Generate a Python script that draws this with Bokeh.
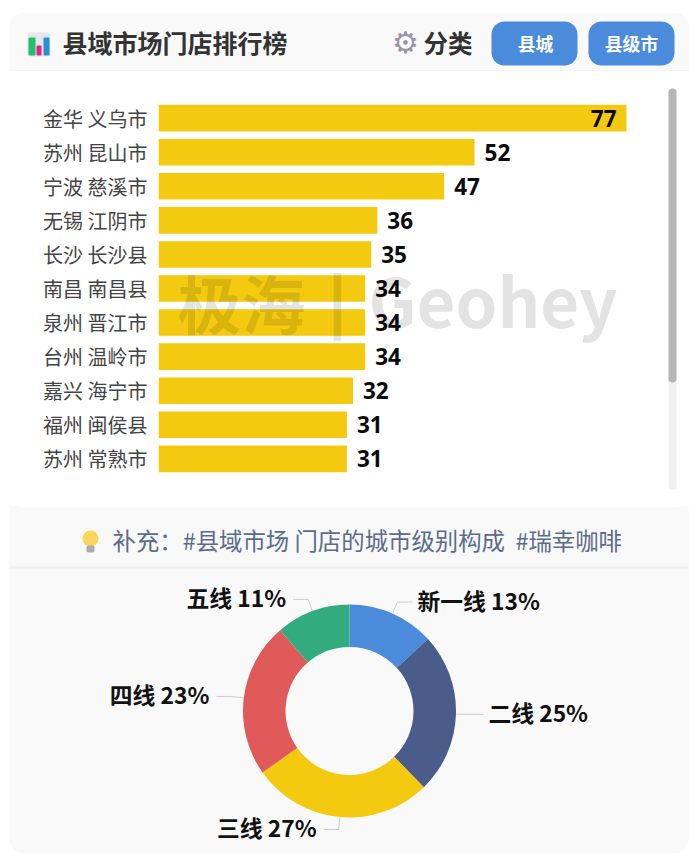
from math import pi, sin, cos
from bokeh.plotting import figure
from bokeh.layouts import column
from bokeh.models import BoxAnnotation, Label, Range1d, FactorRange, ColumnDataSource
from bokeh.core.properties import value
from bokeh.embed import file_html
from bokeh.resources import INLINE

# ---- data ----
cities = ["金华 义乌市", "苏州 昆山市", "宁波 慈溪市", "无锡 江阴市", "长沙 长沙县", "南昌 南昌县",
          "泉州 晋江市", "台州 温岭市", "嘉兴 海宁市", "福州 闽侯县", "苏州 常熟市"]
stores = [77, 52, 47, 36, 35, 34, 34, 34, 32, 31, 31]
tiers = ["新一线", "二线", "三线", "四线", "五线"]
tier_labels = ["13%", "25%", "27%", "23%", "11%"]
tier_shares = [13.2, 24.5, 27.5, 23.5, 11.3]
tier_colors = ["#4a8bdc", "#4a5c8a", "#f4ca10", "#e05a5a", "#32ab7f"]
title = "县域市场门店排行榜"
filter_label = "分类"
buttons = ["县城", "县级市"]
caption = "补充：#县域市场 门店的城市级别构成\u00a0\u00a0#瑞幸咖啡"

CJK = "Noto Sans CJK SC"
WIDTH = 696
HEAD_BOTTOM = 71
BARS_BOTTOM = 505
TOTAL_H = 860
PX_PER_STORE = 6.078
LEFT = 158


def box(fig, x0, x1, y0, y1, color, radius=0, origin=0, alpha=1.0, level="underlay"):
    fig.add_layout(BoxAnnotation(left=x0, right=x1, top=y0 - origin, bottom=y1 - origin,
                                 left_units="canvas", right_units="canvas", top_units="canvas",
                                 bottom_units="canvas", fill_color=color, fill_alpha=alpha, line_color=None,
                                 border_radius=radius, level=level, editable=False))


def label(fig, x, y, text, size, color, bold=True, align="left", font=CJK, origin=0, alpha=1.0):
    fig.add_layout(Label(x=x, y=y - origin, x_units="canvas", y_units="canvas", text=text,
                         text_font=font, text_font_size=f"{size}px", text_color=color, text_alpha=alpha,
                         text_font_style="bold" if bold else "normal", text_align=align,
                         text_baseline="middle"))


def chrome_figure(height):
    f = figure(width=WIDTH, height=height, output_backend="svg", toolbar_location=None,
               x_range=Range1d(0, WIDTH), y_range=Range1d(0, height), min_border=0,
               background_fill_color=None, border_fill_color="white", outline_line_color=None,
               frame_align=False)
    f.axis.visible = False
    f.grid.visible = False
    return f


# ---- header ----
h = chrome_figure(HEAD_BOTTOM)
box(h, 9, 688, 12, 71, "#f9f9f9", radius=(14, 14, 0, 0))
box(h, 9, 688, 70, 71, "#f0f0f0")
box(h, 27, 50, 32, 56, "#e6e6ec", radius=3)
box(h, 28, 35, 37, 55, "#1fc26b", radius=1)
box(h, 36, 41, 45, 55, "#ea1e8c", radius=1)
box(h, 43, 49, 37, 55, "#2a8fd0", radius=1)
label(h, 62, 41, title, 25, "#333333")
label(h, 405, 41.5, "\u2699", 30, "#9b95a8", bold=True, align="center", font="DejaVu Sans")
label(h, 423, 41.5, filter_label, 24.5, "#333333")
box(h, 491, 577, 21, 65, "#4a8bdc", radius=13)
box(h, 588, 674, 21, 65, "#4a8bdc", radius=13)
label(h, 535, 42, buttons[0], 17.8, "#ffffff", align="center")
label(h, 631, 42, buttons[1], 17.8, "#ffffff", align="center")

# ---- bars ----
FRAME_TOP, FRAME_BOTTOM = 87, 489
frame_w = WIDTH - LEFT
p = figure(width=WIDTH, height=BARS_BOTTOM - HEAD_BOTTOM, output_backend="svg", toolbar_location=None,
           x_range=Range1d(0, frame_w / PX_PER_STORE),
           y_range=FactorRange(factors=cities[::-1], range_padding=0.4, range_padding_units="absolute"),
           min_border_left=LEFT, min_border_right=0, min_border_top=FRAME_TOP - HEAD_BOTTOM,
           min_border_bottom=BARS_BOTTOM - FRAME_BOTTOM, frame_width=frame_w,
           frame_height=FRAME_BOTTOM - FRAME_TOP, background_fill_color=None,
           border_fill_color="white", outline_line_color=None, frame_align=False)
p.xaxis.visible = False
p.xgrid.visible = False
p.ygrid.visible = False
p.yaxis.axis_line_color = None
p.yaxis.major_tick_line_color = None
p.yaxis.minor_tick_line_color = None
p.yaxis.major_tick_out = 0
p.yaxis.major_label_standoff = 11
p.yaxis.major_label_text_font = CJK
p.yaxis.major_label_text_font_size = "20px"
p.yaxis.major_label_text_color = "#444444"

# scrollbar
box(p, 668, 676, 88, 490, "#f0f0f0", radius=4, origin=HEAD_BOTTOM)
box(p, 668, 676, 88, 382, "#b5b5b5", radius=4, origin=HEAD_BOTTOM)

p.hbar(y=cities, right=stores, left=0, height=0.78, fill_color="#f4ca10", line_color=None)

INSIDE_FROM = 70
outer = ColumnDataSource(dict(y=[c for c, v in zip(cities, stores) if v < INSIDE_FROM],
                              x=[v for v in stores if v < INSIDE_FROM],
                              t=[str(v) for v in stores if v < INSIDE_FROM]))
inner = ColumnDataSource(dict(y=[c for c, v in zip(cities, stores) if v >= INSIDE_FROM],
                              x=[v for v in stores if v >= INSIDE_FROM],
                              t=[str(v) for v in stores if v >= INSIDE_FROM]))
common = dict(text="t", text_font=value("Open Sans"), text_font_size="22.5px", text_font_style="bold",
              text_color="#0a0a0a", text_baseline="middle", y_offset=0)
p.text(x="x", y="y", source=outer, x_offset=10, text_align="left", **common)
p.text(x="x", y="y", source=inner, x_offset=-10, text_align="right", **common)

# watermark
label(p, 177, 300, "极海", 64, "#000000", alpha=0.11, origin=HEAD_BOTTOM)
label(p, 337, 301, "|", 68, "#000000", alpha=0.11, align="center", font="DejaVu Sans", origin=HEAD_BOTTOM)
label(p, 368, 298, "Geohey", 67, "#000000", alpha=0.11, origin=HEAD_BOTTOM)

# ---- caption + donut ----
H2 = TOTAL_H - BARS_BOTTOM
q = chrome_figure(H2)
box(q, 9, 688, BARS_BOTTOM, 853, "#f9f9f9", radius=(0, 0, 14, 14), origin=BARS_BOTTOM)
box(q, 9, 688, BARS_BOTTOM - 20, 507, "#ffffff", radius=(0, 0, 14, 14), origin=BARS_BOTTOM)
box(q, 9, 688, 566, 568, "#f0f0f0", origin=BARS_BOTTOM)
box(q, 82, 98, 530, 546, "#fbd65a", radius=8, origin=BARS_BOTTOM)
box(q, 86, 94, 545, 552, "#a9a9b4", radius=2, origin=BARS_BOTTOM)
label(q, 112, 539, caption, 23.4, "#5b6b8c", bold=False, origin=BARS_BOTTOM)

cx, cy = 349, TOTAL_H - 710.5
R_OUT, R_IN, R_ELBOW, LEAD = 106.5, 64, 119, 15
total = sum(tier_shares)
starts, ends, acc = [], [], 0.0
for s in tier_shares:
    starts.append(pi / 2 - 2 * pi * acc / total)
    acc += s
    ends.append(pi / 2 - 2 * pi * acc / total)

q.annular_wedge(x=[cx] * 5, y=[cy] * 5, inner_radius=R_IN, outer_radius=R_OUT,
                start_angle=starts, end_angle=ends, direction="clock",
                fill_color=tier_colors, line_color=None)

xs, ys, lx, ly, txt, aligns = [], [], [], [], [], []
for a0, a1, name, pct in zip(starts, ends, tiers, tier_labels):
    m = (a0 + a1) / 2
    x1, y1 = cx + R_OUT * cos(m), cy + R_OUT * sin(m)
    x2, y2 = cx + R_ELBOW * cos(m), cy + R_ELBOW * sin(m)
    side = 1 if cos(m) >= 0 else -1
    x3 = x2 + side * LEAD
    xs.append([x1, x2, x3])
    ys.append([y1, y2, y2])
    lx.append(x3 + (5 if side > 0 else -7))
    ly.append(y2 + 2)
    txt.append(f"{name} {pct}")
    aligns.append("left" if side > 0 else "right")

q.multi_line(xs=xs, ys=ys, line_color="#cccccc", line_width=1)
q.text(x="x", y="y", text="t", text_align="a",
       source=ColumnDataSource(dict(x=lx, y=ly, t=txt, a=aligns)),
       text_font=value(CJK), text_font_size="22.8px", text_font_style="bold",
       text_color="#111111", text_baseline="middle")

page = column(h, p, q, spacing=0)
open("out.html", "w").write(file_html(page, INLINE))
